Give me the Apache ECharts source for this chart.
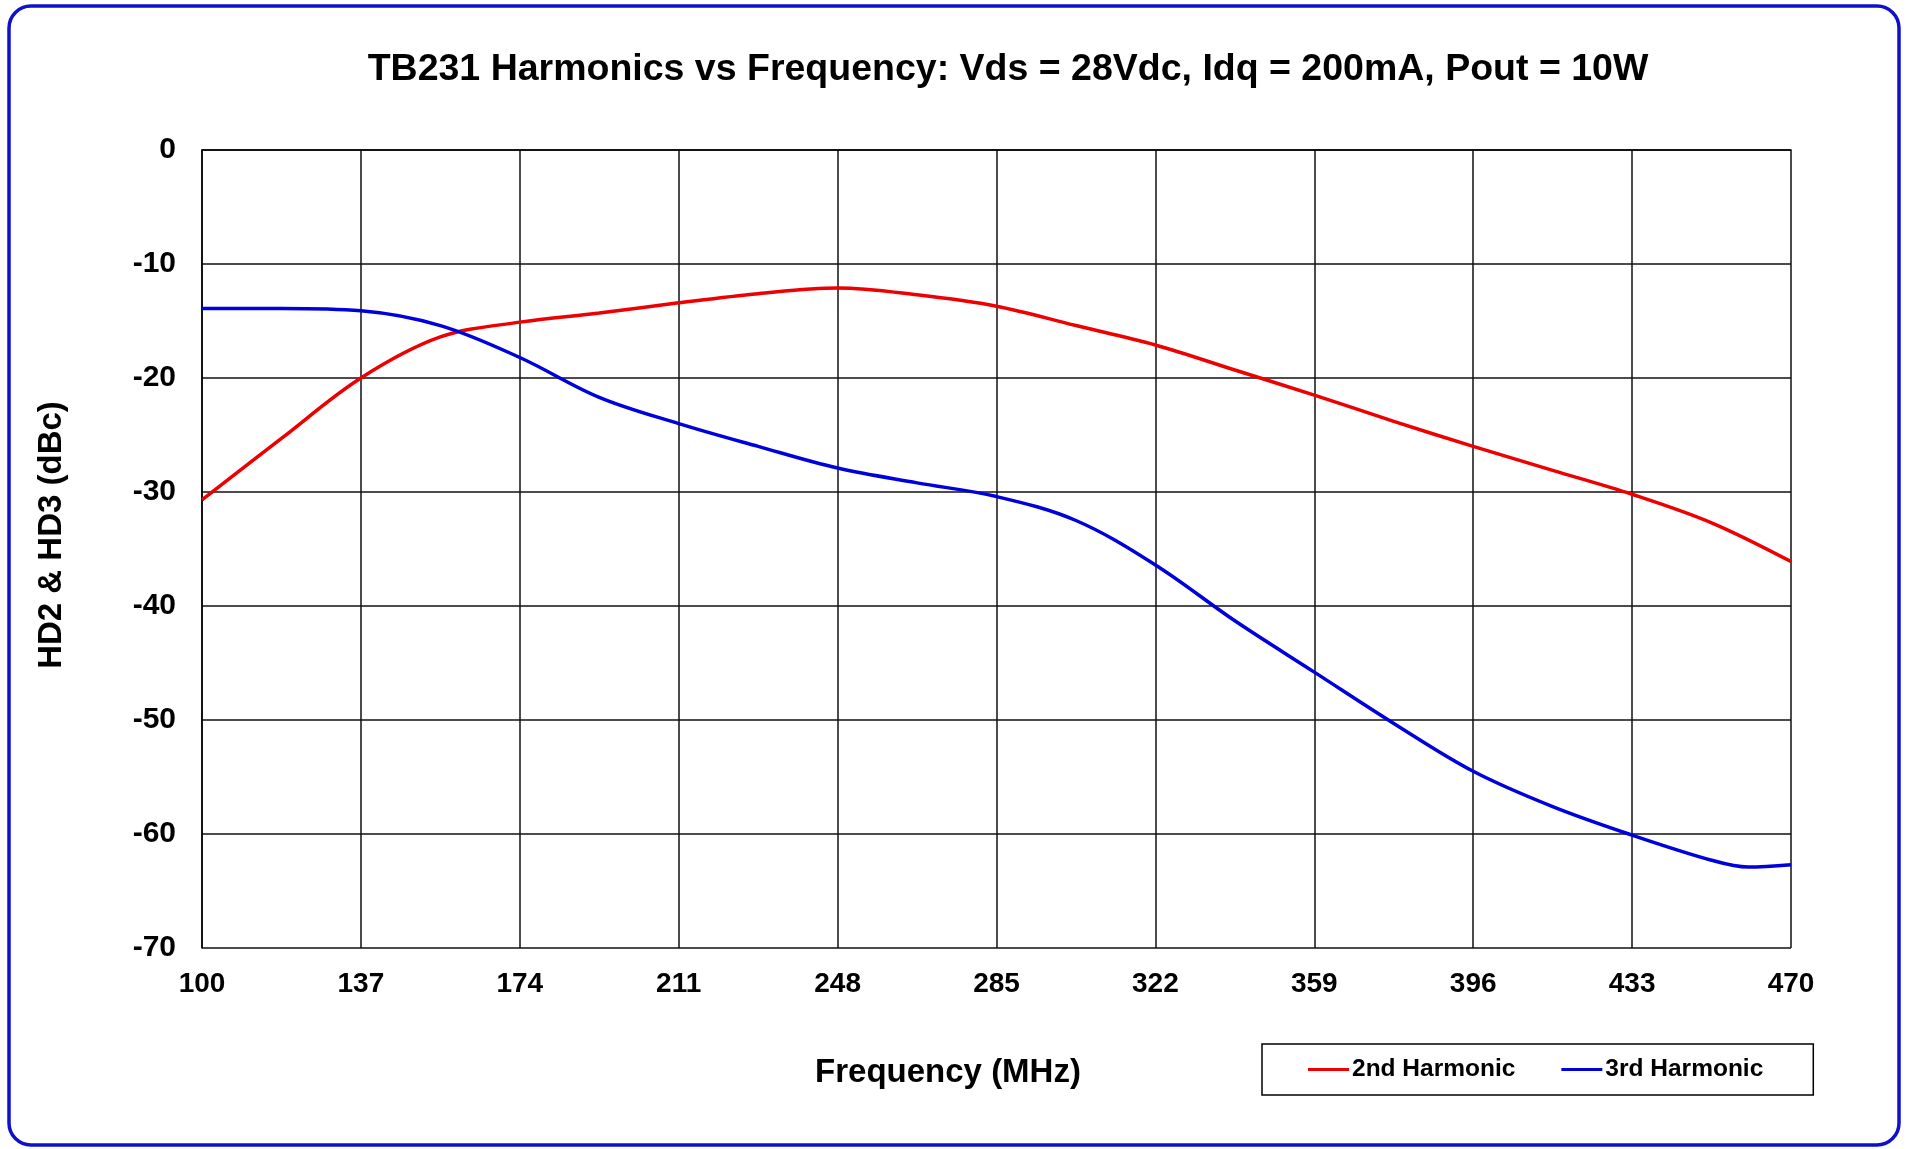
<!DOCTYPE html>
<html>
<head>
<meta charset="utf-8">
<script src="https://cdn.jsdelivr.net/npm/echarts@6/dist/echarts.min.js"></script>
<style>
  html, body { margin: 0; padding: 0; background: #ffffff; }
  #chart { width: 1907px; height: 1149px; }
</style>
</head>
<body>
<div id="chart"></div>
<script>
// Frequency sweep points (MHz) for the 2nd harmonic
const freqHd2 = [100, 118.5, 137, 155.5, 174, 192.5, 211, 229.5, 248, 266.5, 285,
                 303.5, 322, 340.5, 359, 377.5, 396, 414.5, 433, 451.5, 470];
// 2nd harmonic level (dBc)
const hd2 = [-30.7, -25.3, -20.0, -16.4, -15.1, -14.3, -13.4, -12.6, -12.1, -12.7, -13.7,
             -15.4, -17.1, -19.3, -21.5, -23.8, -26.0, -28.1, -30.2, -32.7, -36.1];
// Frequency sweep points (MHz) for the 3rd harmonic
const freqHd3 = [100, 118.5, 137, 155.5, 174, 192.5, 211, 229.5, 248, 266.5, 285,
                 303.5, 322, 340.5, 359, 377.5, 396, 414.5, 433, 451.5, 460, 470];
// 3rd harmonic level (dBc)
const hd3 = [-13.9, -13.9, -14.1, -15.4, -18.2, -21.7, -24.0, -26.0, -27.9, -29.2, -30.4,
             -32.5, -36.4, -41.3, -45.8, -50.3, -54.5, -57.6, -60.1, -62.3, -62.9, -62.7];
// Axis tick settings
const xTicks = { min: 100, max: 470, step: 37 };
const yTicks = { min: -70, max: 0, step: 10 };

const FONT = '"Liberation Sans", Arial, sans-serif';
const pairs = (xs, ys) => xs.map((x, i) => [x, ys[i]]);

const chart = echarts.init(document.getElementById('chart'), null, { renderer: 'canvas' });

chart.setOption({
  backgroundColor: '#ffffff',
  animation: false,
  title: {
    text: 'TB231 Harmonics vs Frequency: Vds = 28Vdc, Idq = 200mA, Pout = 10W',
    left: 1003,
    textAlign: 'center',
    top: 46,
    textStyle: { fontFamily: FONT, fontWeight: 'bold', fontSize: 37.5, color: '#000' }
  },
  grid: { left: 202, top: 150, width: 1589, height: 798, containLabel: false },
  xAxis: {
    type: 'value',
    min: xTicks.min, max: xTicks.max, interval: xTicks.step,
    axisLine: { show: true, lineStyle: { color: '#000', width: 1.5 } },
    axisTick: { show: false },
    splitLine: { show: true, lineStyle: { color: '#111', width: 1.5 } },
    axisLabel: { margin: 22, fontFamily: FONT, fontWeight: 'bold', fontSize: 28, color: '#000' }
  },
  yAxis: {
    type: 'value',
    min: yTicks.min, max: yTicks.max, interval: yTicks.step,
    axisLine: { show: true, lineStyle: { color: '#000', width: 1.5 } },
    axisTick: { show: false },
    splitLine: { show: true, lineStyle: { color: '#111', width: 1.5 } },
    axisLabel: { margin: 26, fontFamily: FONT, fontWeight: 'bold', fontSize: 30, color: '#000' }
  },
  legend: {
    left: 1262, top: 1044,
    padding: [13, 50, 13, 46],
    borderColor: '#000', borderWidth: 1.5,
    itemWidth: 41, itemHeight: 3, itemGap: 46,
    icon: 'rect',
    textStyle: { fontFamily: FONT, fontWeight: 'bold', fontSize: 24.5, color: '#000', padding: [0, 0, 0, -2] },
    data: ['2nd Harmonic', '3rd Harmonic']
  },
  graphic: [
    {
      type: 'rect', silent: true, z: -1,
      shape: { x: 9, y: 6, width: 1890, height: 1139, r: 22 },
      style: { fill: 'transparent', stroke: '#1010cc', lineWidth: 3.5 }
    },
    {
      type: 'text', rotation: Math.PI / 2,
      position: [52, 535],
      style: {
        text: 'HD2 & HD3 (dBc)', fontFamily: FONT, fontWeight: 'bold', fontSize: 33,
        fill: '#000', textAlign: 'center', textVerticalAlign: 'middle'
      }
    },
    {
      type: 'text',
      position: [948, 1073],
      style: {
        text: 'Frequency (MHz)', fontFamily: FONT, fontWeight: 'bold', fontSize: 33,
        fill: '#000', textAlign: 'center', textVerticalAlign: 'middle'
      }
    }
  ],
  series: [
    {
      name: '2nd Harmonic', type: 'line', data: pairs(freqHd2, hd2),
      smooth: 0.35, showSymbol: false, symbol: 'none',
      lineStyle: { color: '#ee0000', width: 3.5 }, itemStyle: { color: '#ee0000' }
    },
    {
      name: '3rd Harmonic', type: 'line', data: pairs(freqHd3, hd3),
      smooth: 0.35, showSymbol: false, symbol: 'none',
      lineStyle: { color: '#0000dd', width: 3.5 }, itemStyle: { color: '#0000dd' }
    }
  ]
});
</script>
</body>
</html>
